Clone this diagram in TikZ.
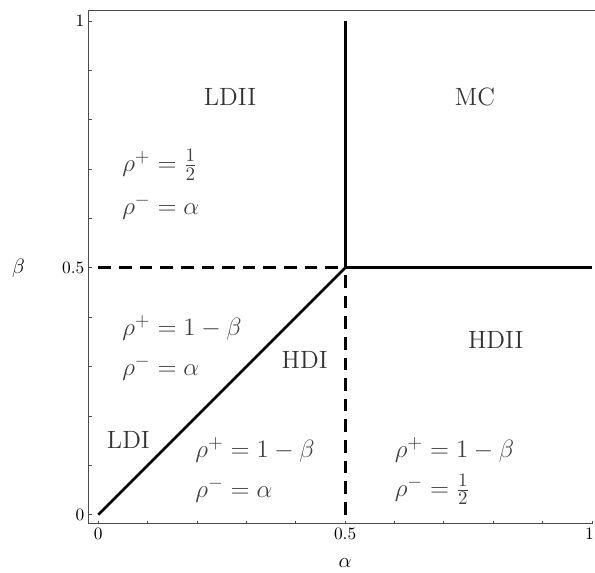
\documentclass[tikz,border=0pt]{standalone}
\usepackage{amsmath}
\usepackage{tikz}

\begin{document}
\begin{tikzpicture}[
    x=10cm, y=10cm,
    axis/.style={black!70, line width=0.6pt},
    tickmark/.style={black!70, line width=0.5pt},
    boundary/.style={line width=1.6pt},
    crossover/.style={line width=1.6pt, dash pattern=on 7.3pt off 4.6pt},
    phase/.style={text=black!80, font=\Large},
    density/.style={text=black!75, font=\fontsize{15.3}{18}\selectfont, anchor=west, inner sep=0pt},
    ticklabel/.style={font=\normalsize, inner sep=1pt}
]
\useasboundingbox (-0.199,-0.1174) rectangle (1.006,1.0425);

% Frame and axes
\draw[axis] (-0.0194,-0.018) -- (1.0,-0.018);
\draw[axis] (-0.0194,-0.018) -- (-0.0194,1.022);
\draw[axis] (-0.0194,1.022) -- (1.006,1.022);
\foreach \t in {0,0.1,...,1.01} {
  \draw[tickmark] (\t,-0.018) -- (\t,-0.012);
  \draw[tickmark] (-0.0194,\t) -- (-0.013,\t);
}

% Tick labels
\node[ticklabel, anchor=north] (xzero) at (0,-0.022) {0};
\node[ticklabel, anchor=north] (xhalf) at (0.5,-0.022) {0.5};
\node[ticklabel, anchor=north] (xone) at (0.995,-0.022) {1};
\node[ticklabel, anchor=east] (yzero) at (-0.024,0) {0};
\node[ticklabel, anchor=east] (yhalf) at (-0.024,0.5) {0.5};
\node[ticklabel, anchor=east] (yone) at (-0.024,1) {1};

% Axis labels
\node[font=\large] (alphalabel) at (0.5,-0.097) {$\alpha$};
\node[font=\large] (betalabel) at (-0.1615,0.5) {$\beta$};

% Phase boundaries
\coordinate (origin) at (0,0);
\coordinate (triple) at (0.5,0.5);
\coordinate (topmid) at (0.5,1);
\coordinate (rightmid) at (1,0.5);
\coordinate (leftmid) at (0,0.5);
\coordinate (botmid) at (0.5,0);

\draw[boundary] (origin) -- (triple);
\draw[boundary] (triple) -- (topmid);
\draw[boundary] (triple) -- (rightmid);
\draw[crossover] (leftmid) -- (triple);
\draw[crossover] (botmid) -- (triple);

% Phase names
\node[phase] (ldii) at (0.267,0.846) {LDII};
\node[phase] (mc) at (0.763,0.846) {MC};
\node[phase] (hdi) at (0.418,0.314) {HDI};
\node[phase] (hdii) at (0.805,0.354) {HDII};
\node[phase] (ldi) at (0.061,0.152) {LDI};

% Densities
\node[density] (ldiiplus) at (0.048,0.709) {$\rho^{+}=\frac{1}{2}$};
\node[density] (ldiiminus) at (0.048,0.624) {$\rho^{-}=\alpha$};
\node[density] (ldiplus) at (0.048,0.379) {$\rho^{+}=1-\beta$};
\node[density] (ldiminus) at (0.048,0.298) {$\rho^{-}=\alpha$};
\node[density] (hdiplus) at (0.196,0.132) {$\rho^{+}=1-\beta$};
\node[density] (hdiminus) at (0.196,0.051) {$\rho^{-}=\alpha$};
\node[density] (hdiiplus) at (0.600,0.132) {$\rho^{+}=1-\beta$};
\node[density] (hdiiminus) at (0.600,0.051) {$\rho^{-}=\frac{1}{2}$};

\end{tikzpicture}
\end{document}
